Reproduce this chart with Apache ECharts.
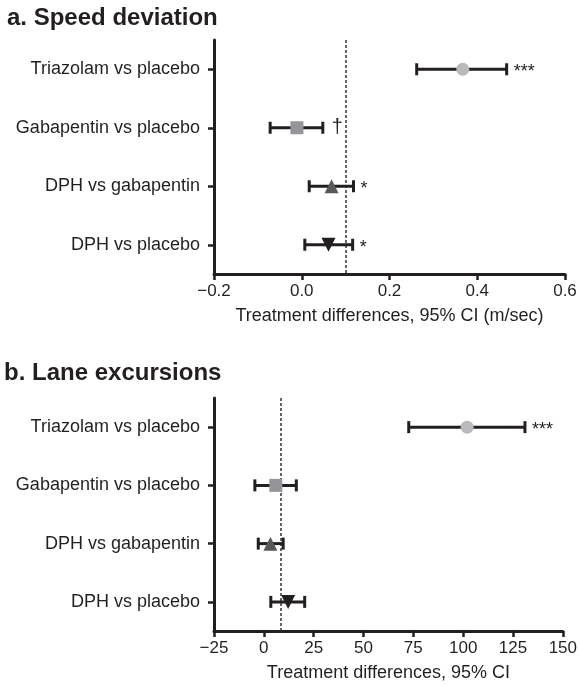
<!DOCTYPE html>
<html>
<head>
<meta charset="utf-8">
<script src="https://cdn.jsdelivr.net/npm/echarts@6/dist/echarts.min.js"></script>
<style>html,body{margin:0;padding:0;background:#fff}#c{width:580px;height:686px}</style>
</head>
<body>
<div id="c"></div>
<script>
const categories = ['Triazolam vs placebo', 'Gabapentin vs placebo', 'DPH vs gabapentin', 'DPH vs placebo'];

const speedEst = [0.367, -0.011, 0.068, 0.061];
const speedLow = [0.262, -0.072, 0.017, 0.007];
const speedHigh = [0.467, 0.048, 0.118, 0.116];
const speedSig = ['***', '\u2020', '*', '*'];
const speedRef = 0.1;
const speedMin = -0.2, speedMax = 0.6, speedStep = 0.2;

const laneEst = [102, 6, 3.3, 12.2];
const laneLow = [72.7, -4.5, -2.8, 3.5];
const laneHigh = [131, 16.3, 9.7, 20.5];
const laneSig = ['***', '', '', ''];
const laneRef = 8.5;
const laneMin = -25, laneMax = 150, laneStep = 25;

// marker styles per comparison
const markerSymbol = ['circle', 'rect', 'triangle', 'triangle'];
const markerRotate = [0, 0, 0, 180];
const markerSize = [13, 13, 14, 14];
const markerColor = ['#b9babd', '#939598', '#58595b', '#231f20'];

const INK = '#231f20';
const FONT = '"Liberation Sans", Arial, Helvetica, sans-serif';

const chart = echarts.init(document.getElementById('c'), null, {renderer: 'canvas'});

function fmt(decimals) {
  return function (v) {
    return Number(v).toFixed(decimals).replace('-', '\u2212');
  };
}

function errSeries(axisIdx, low, high, sig) {
  return {
    type: 'custom',
    xAxisIndex: axisIdx,
    yAxisIndex: axisIdx,
    z: 3,
    data: categories.map((c, i) => [low[i], high[i], i]),
    renderItem: function (params, api) {
      const i = params.dataIndex;
      const p1 = api.coord([api.value(0), api.value(2)]);
      const p2 = api.coord([api.value(1), api.value(2)]);
      const y = p1[1];
      const cap = 6;
      const st = {stroke: INK, lineWidth: 3};
      const s = sig[i];
      const children = [
        {type: 'line', shape: {x1: p1[0], y1: y, x2: p2[0], y2: y}, style: st},
        {type: 'line', shape: {x1: p1[0], y1: y - cap, x2: p1[0], y2: y + cap}, style: st},
        {type: 'line', shape: {x1: p2[0], y1: y - cap, x2: p2[0], y2: y + cap}, style: st}
      ];
      if (s) {
        const isStar = s.indexOf('*') >= 0;
        children.push({
          type: 'text',
          x: p2[0] + (isStar ? 7 : 9),
          y: y + (isStar ? 3 : 0),
          style: {
            text: s,
            fill: INK,
            font: (isStar ? '18px ' : '20px ') + FONT,
            textAlign: 'left',
            textVerticalAlign: 'middle'
          }
        });
      }
      return {type: 'group', children: children};
    }
  };
}

function markerSeries(axisIdx, est, ref) {
  return {
    type: 'scatter',
    xAxisIndex: axisIdx,
    yAxisIndex: axisIdx,
    z: 4,
    silent: true,
    data: categories.map((c, i) => ({
      value: [est[i], c],
      symbol: markerSymbol[i],
      symbolSize: markerSize[i],
      symbolRotate: markerRotate[i],
      itemStyle: {color: markerColor[i], opacity: 1}
    })),
    markLine: {
      silent: true,
      symbol: 'none',
      z: 2,
      label: {show: false},
      lineStyle: {color: '#333', width: 1.5, type: [3, 2]},
      data: [{xAxis: ref}]
    }
  };
}

function yAxis(gridIdx) {
  return {
    type: 'category',
    gridIndex: gridIdx,
    data: categories,
    inverse: true,
    axisLine: {show: true, onZero: false, lineStyle: {color: INK, width: 3}},
    axisTick: {show: true, alignWithLabel: true, length: 6, lineStyle: {color: INK, width: 2.5}},
    axisLabel: {fontSize: 18, color: INK, margin: 14, fontFamily: FONT},
    splitLine: {show: false}
  };
}

function xAxis(gridIdx, mn, mx, step, dec, name) {
  return {
    type: 'value',
    gridIndex: gridIdx,
    min: mn, max: mx, interval: step,
    axisLine: {show: true, onZero: false, lineStyle: {color: INK, width: 3}},
    axisTick: {show: true, length: 6, lineStyle: {color: INK, width: 2.5}},
    axisLabel: {fontSize: 17, color: INK, margin: 9, fontFamily: FONT, formatter: fmt(dec)},
    splitLine: {show: false},
    name: name,
    nameLocation: 'middle',
    nameGap: 33,
    nameTextStyle: {fontSize: 18, color: INK, fontFamily: FONT}
  };
}

chart.setOption({
  animation: false,
  backgroundColor: '#fff',
  textStyle: {fontFamily: FONT},
  title: [
    {text: 'a. Speed deviation', left: 7, top: 4, padding: 0,
     textStyle: {fontSize: 24, fontWeight: 'bold', color: INK, fontFamily: FONT, lineHeight: 28}},
    {text: 'b. Lane excursions', left: 4, top: 359, padding: 0,
     textStyle: {fontSize: 24, fontWeight: 'bold', color: INK, fontFamily: FONT, lineHeight: 28}}
  ],
  grid: [
    {left: 214, top: 40, width: 351, height: 234},
    {left: 214, top: 398, width: 350, height: 233}
  ],
  xAxis: [
    xAxis(0, speedMin, speedMax, speedStep, 1, 'Treatment differences, 95% CI (m/sec)'),
    xAxis(1, laneMin, laneMax, laneStep, 0, 'Treatment differences, 95% CI')
  ],
  yAxis: [yAxis(0), yAxis(1)],
  series: [
    errSeries(0, speedLow, speedHigh, speedSig),
    markerSeries(0, speedEst, speedRef),
    errSeries(1, laneLow, laneHigh, laneSig),
    markerSeries(1, laneEst, laneRef)
  ]
});
</script>
</body>
</html>
